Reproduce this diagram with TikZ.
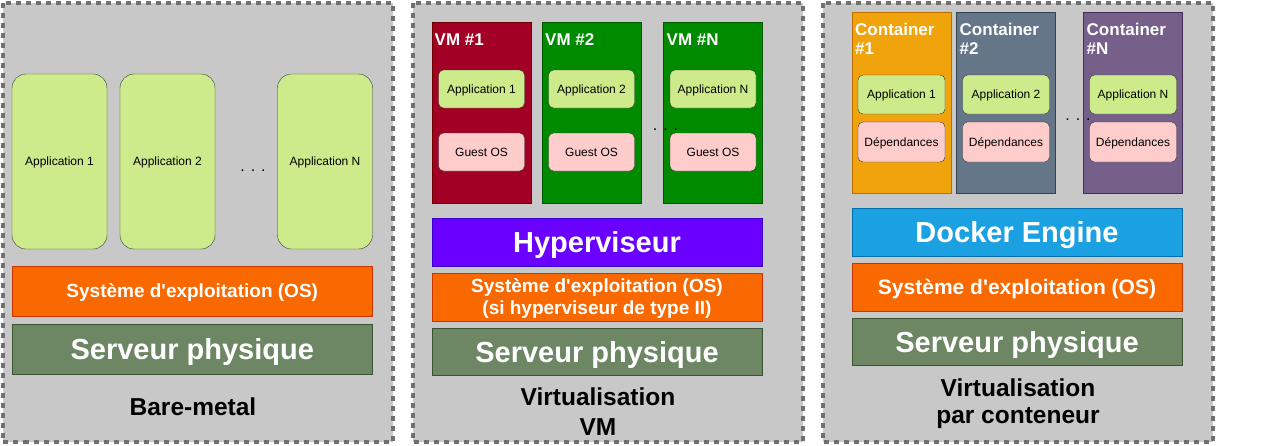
\documentclass[tikz,border=0pt]{standalone}
\usepackage{fontspec}
\setmainfont{Liberation Sans}[Ligatures=TeXOff]
\usepackage{tikz}
\usetikzlibrary{positioning}

\definecolor{panelgray}{HTML}{C8C8C8}
\definecolor{bordergray}{HTML}{707070}
\definecolor{appgreen}{HTML}{CDEB8B}
\definecolor{appline}{HTML}{36393D}
\definecolor{guestpink}{HTML}{FFCCCC}
\definecolor{vmred}{HTML}{A20025}
\definecolor{vmredline}{HTML}{6F0000}
\definecolor{vmgreen}{HTML}{008A00}
\definecolor{vmgreenline}{HTML}{005700}
\definecolor{amber}{HTML}{F0A30A}
\definecolor{amberline}{HTML}{BD7000}
\definecolor{steel}{HTML}{647687}
\definecolor{steelline}{HTML}{314354}
\definecolor{mauve}{HTML}{76608A}
\definecolor{mauveline}{HTML}{432D57}
\definecolor{violet}{HTML}{6A00FF}
\definecolor{violetline}{HTML}{3700CC}
\definecolor{cyan}{HTML}{1BA1E2}
\definecolor{cyanline}{HTML}{006EAF}
\definecolor{osorange}{HTML}{FA6800}
\definecolor{osline}{HTML}{C73500}
\definecolor{olive}{HTML}{6D8764}
\definecolor{oliveline}{HTML}{3A5431}

\tikzset{
  panel/.style={fill=panelgray, draw=bordergray, line width=4pt, dash pattern=on 5pt off 5pt},
  bigapp/.style={rectangle, rounded corners=14pt, draw=appline, fill=appgreen, minimum width=95pt, minimum height=175pt, inner sep=0pt, text depth=0pt, font=\fontsize{12pt}{14pt}\selectfont},
  smallbox/.style={rectangle, rounded corners=5pt, draw=appline, minimum width=86pt, minimum height=38pt, inner sep=0pt, text depth=0pt, font=\fontsize{12pt}{14pt}\selectfont},
  vmbox/.style={rectangle, minimum width=99pt, minimum height=181pt, inner sep=0pt},
  boxtitle/.style={text=white, inner sep=0pt, anchor=base west, align=left, font=\bfseries\fontsize{17pt}{19.5pt}\selectfont},
  layer/.style={rectangle, text=white, inner sep=0pt, text depth=0pt, align=center, font=\bfseries\fontsize{19pt}{23pt}\selectfont},
  biglayer/.style={layer, font=\bfseries\fontsize{29pt}{32pt}\selectfont},
  caption/.style={inner sep=0pt, anchor=base, align=center, font=\bfseries\fontsize{24.5pt}{30pt}\selectfont},
  dots/.style={inner sep=0pt, anchor=base, font=\fontsize{16pt}{16pt}\selectfont}
}

\begin{document}
\begin{tikzpicture}[x=1pt, y=-1pt]
\useasboundingbox (0,0) rectangle (1273,445);

% panels
\draw [panel] (2.5,2.5) rectangle (392.5,441.5);
\draw [panel] (413,2.5) rectangle (803,441.5);
\draw [panel] (823,2.5) rectangle (1213,441.5);

% bare-metal
\node [bigapp] (app1) at (59.5,161.5) {Application 1};
\node [bigapp] (app2) at (167.5,161.5) {Application 2};
\node [bigapp] (appN) at (325,161.5) {Application N};
\node [dots] (dots1) at (253,171.5) {. . .};
\node [layer, fill=osorange, draw=osline, minimum width=360pt, minimum height=50pt] (os1) at (192.25,291) {Système d'exploitation (OS)};
\node [biglayer, fill=olive, draw=oliveline, minimum width=360pt, minimum height=50pt] (srv1) at (192.25,349) {Serveur physique};
\node [caption] (cap1) at (193,415) {Bare-metal};

% virtualisation VM
\node [vmbox, fill=vmred, draw=vmredline] (vm1) at (481.5,112.5) {};
\node [vmbox, fill=vmgreen, draw=vmgreenline] (vm2) at (591.5,112.5) {};
\node [vmbox, fill=vmgreen, draw=vmgreenline] (vmN) at (713,112.5) {};
\node [boxtitle] (vm1t) at (434.5,45.5) {VM \#1};
\node [boxtitle] (vm2t) at (545,45.5) {VM \#2};
\node [boxtitle] (vmNt) at (666.5,45.5) {VM \#N};
\node [smallbox, fill=appgreen] (vapp1) at (481.5,89) {Application 1};
\node [smallbox, fill=appgreen] (vapp2) at (591.5,89) {Application 2};
\node [smallbox, fill=appgreen] (vappN) at (713,89) {Application N};
\node [smallbox, fill=guestpink] (guest1) at (481.5,152) {Guest OS};
\node [smallbox, fill=guestpink] (guest2) at (591.5,152) {Guest OS};
\node [smallbox, fill=guestpink] (guestN) at (713,152) {Guest OS};
\node [dots] (dots2) at (665.5,130.5) {. . .};
\node [biglayer, fill=violet, draw=violetline, minimum width=330pt, minimum height=48pt] (hyp) at (597,242) {Hyperviseur};
\node [layer, fill=osorange, draw=osline, minimum width=330pt, minimum height=48pt, font=\bfseries\fontsize{19pt}{22pt}\selectfont] (os2) at (597,297) {Système d'exploitation (OS)\\(si hyperviseur de type II)};
\node [biglayer, fill=olive, draw=oliveline, minimum width=330pt, minimum height=47pt] (srv2) at (597,351.5) {Serveur physique};
\node [caption] (cap2) at (598,435.5) {Virtualisation\\VM};

% virtualisation par conteneur
\node [vmbox, fill=amber, draw=amberline] (ct1) at (901.5,102.5) {};
\node [vmbox, fill=steel, draw=steelline] (ct2) at (1006,102.5) {};
\node [vmbox, fill=mauve, draw=mauveline] (ctN) at (1133,102.5) {};
\node [boxtitle] (ct1t) at (855,54.5) {Container\\\#1};
\node [boxtitle] (ct2t) at (959.5,54.5) {Container\\\#2};
\node [boxtitle] (ctNt) at (1086.5,54.5) {Container\\\#N};
\node [smallbox, fill=appgreen, minimum width=87pt, minimum height=39pt] (capp1) at (901.5,94.5) {Application 1};
\node [smallbox, fill=appgreen, minimum width=87pt, minimum height=39pt] (capp2) at (1006,94.5) {Application 2};
\node [smallbox, fill=appgreen, minimum width=87pt, minimum height=39pt] (cappN) at (1133,94.5) {Application N};
\node [smallbox, fill=guestpink, minimum width=87pt, minimum height=40pt] (dep1) at (901.5,142) {Dépendances};
\node [smallbox, fill=guestpink, minimum width=87pt, minimum height=40pt] (dep2) at (1006,142) {Dépendances};
\node [smallbox, fill=guestpink, minimum width=87pt, minimum height=40pt] (depN) at (1133,142) {Dépendances};
\node [dots] (dots3) at (1078,120) {. . .};
\node [biglayer, fill=cyan, draw=cyanline, minimum width=330pt, minimum height=48pt] (docker) at (1017,232) {Docker Engine};
\node [layer, fill=osorange, draw=osline, minimum width=330pt, minimum height=48pt, font=\bfseries\fontsize{21pt}{24pt}\selectfont] (os3) at (1017,287) {Système d'exploitation (OS)};
\node [biglayer, fill=olive, draw=oliveline, minimum width=330pt, minimum height=47pt] (srv3) at (1017,341.5) {Serveur physique};
\node [caption, font=\bfseries\fontsize{24.5pt}{27.5pt}\selectfont] (cap3) at (1018,423.5) {Virtualisation\\par conteneur};
\end{tikzpicture}
\end{document}
